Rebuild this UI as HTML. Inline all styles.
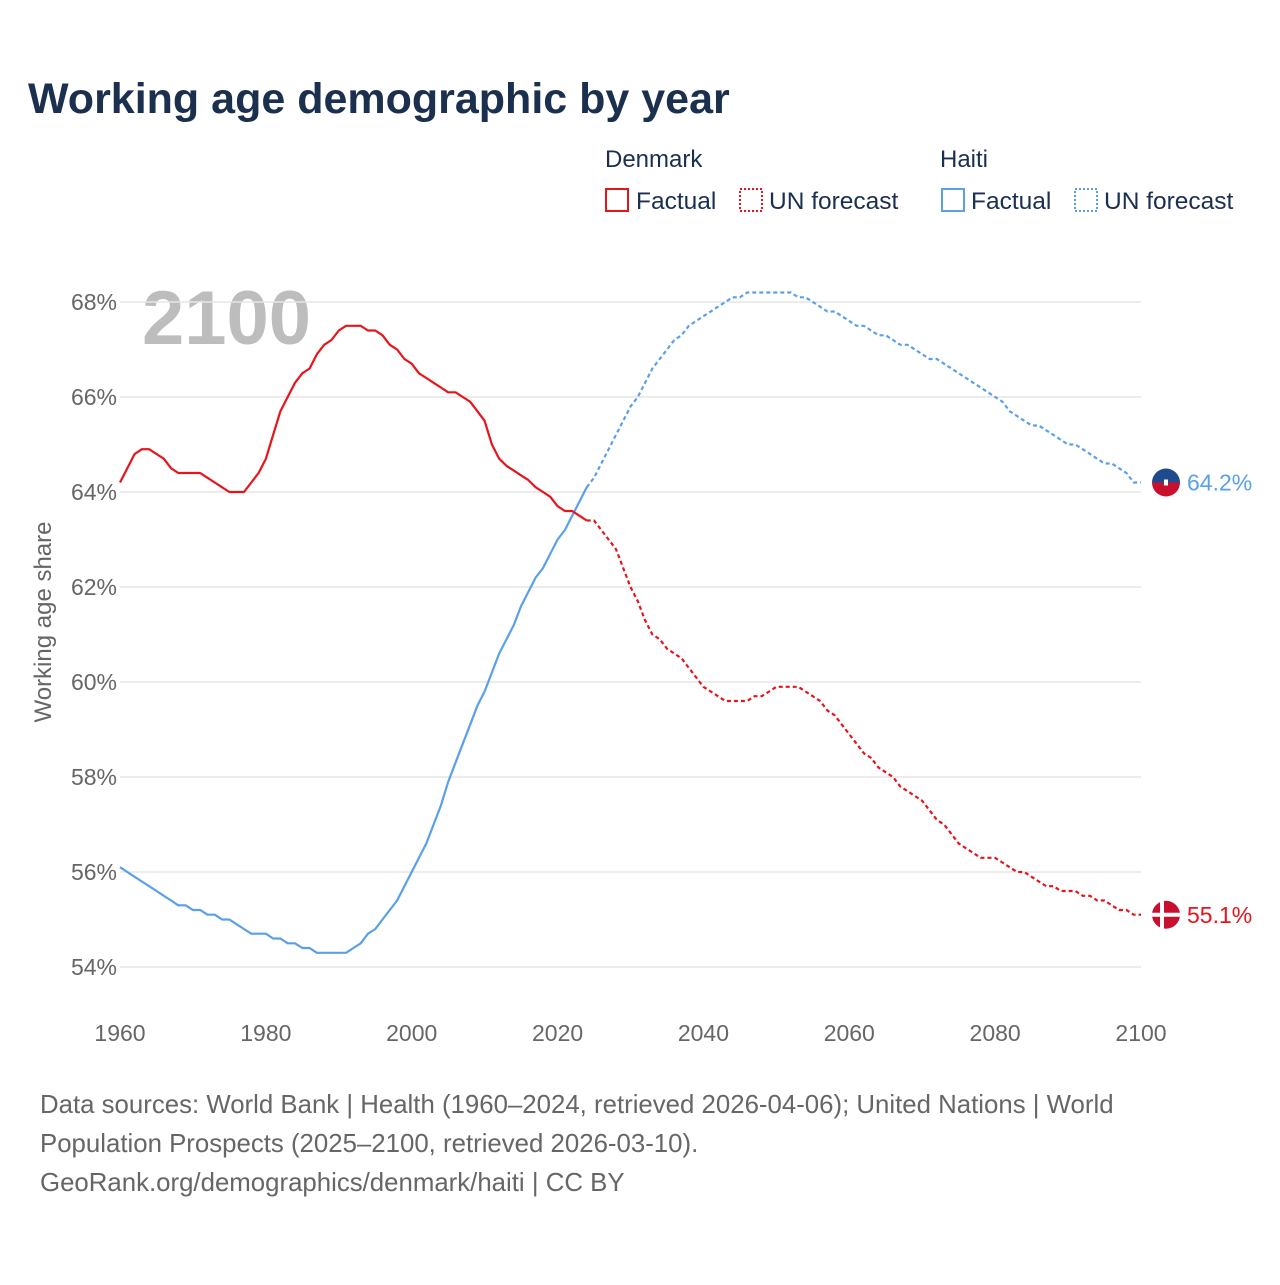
<!DOCTYPE html>
<html><head><meta charset="utf-8"><style>
html,body{margin:0;padding:0;background:#fff;}
body{width:1280px;height:1280px;position:relative;font-family:"Liberation Sans",sans-serif;overflow:hidden;}
svg text{font-family:"Liberation Sans",sans-serif;}
</style></head><body>
<svg id="chart" width="1280" height="1280" viewBox="0 0 1280 1280">
<text x="28" y="113" font-size="43" font-weight="bold" fill="#1b2f4f">Working age demographic by year</text>
<g>
<text x="605" y="167" font-size="24" fill="#1b2f4f">Denmark</text>
<text x="940" y="167" font-size="24" fill="#1b2f4f">Haiti</text>
<rect x="606" y="189" width="22" height="22" fill="none" stroke="#e8141c" stroke-width="2"/>
<text x="636" y="209" font-size="24.5" fill="#1b2f4f">Factual</text>
<rect x="740" y="189" width="22" height="22" fill="none" stroke="#e8141c" stroke-width="2" stroke-dasharray="2 2"/>
<text x="769" y="209" font-size="24.5" fill="#1b2f4f">UN forecast</text>
<rect x="942" y="189" width="22" height="22" fill="none" stroke="#5aa0e8" stroke-width="2"/>
<text x="971" y="209" font-size="24.5" fill="#1b2f4f">Factual</text>
<rect x="1075" y="189" width="22" height="22" fill="none" stroke="#5aa0e8" stroke-width="2" stroke-dasharray="2 2"/>
<text x="1104" y="209" font-size="24.5" fill="#1b2f4f">UN forecast</text>
</g>
<text x="142" y="344" font-size="76" font-weight="bold" fill="#bdbdbd">2100</text>
<text transform="translate(51,622) rotate(-90)" text-anchor="middle" font-size="24" fill="#666">Working age share</text>
<g id="grid"></g><g id="series"></g><g id="labels"></g>
</svg>
<div style="position:absolute;left:40px;top:1086px;font-size:25.8px;line-height:39px;color:#666;width:1220px">Data sources: World Bank | Health (1960–2024, retrieved 2026-04-06); United Nations | World<br>Population Prospects (2025–2100, retrieved 2026-03-10).<br>GeoRank.org/demographics/denmark/haiti | CC BY</div>
<script>
const yTicks=[54,56,58,60,62,64,66,68];
const xTicks=[1960,1980,2000,2020,2040,2060,2080,2100];
const startYear=1960;
const forecastStart=2024;
const denmark=[64.2,64.5,64.8,64.9,64.9,64.8,64.7,64.5,64.4,64.4,64.4,64.4,64.3,64.2,64.1,64.0,64.0,64.0,64.2,64.4,64.7,65.2,65.7,66.0,66.3,66.5,66.6,66.9,67.1,67.2,67.4,67.5,67.5,67.5,67.4,67.4,67.3,67.1,67.0,66.8,66.7,66.5,66.4,66.3,66.2,66.1,66.1,66.0,65.9,65.7,65.5,65.0,64.7,64.55,64.45,64.35,64.25,64.1,64.0,63.9,63.7,63.6,63.6,63.5,63.4,
63.4,63.2,63.0,62.8,62.4,62.0,61.7,61.3,61.0,60.9,60.7,60.6,60.5,60.3,60.1,59.9,59.8,59.7,59.6,59.6,59.6,59.6,59.7,59.7,59.8,59.9,59.9,59.9,59.9,59.8,59.7,59.6,59.4,59.3,59.1,58.9,58.7,58.5,58.4,58.2,58.1,58.0,57.8,57.7,57.6,57.5,57.3,57.1,57.0,56.8,56.6,56.5,56.4,56.3,56.3,56.3,56.2,56.1,56.0,56.0,55.9,55.8,55.7,55.7,55.6,55.6,55.6,55.5,55.5,55.4,55.4,55.3,55.2,55.2,55.1,55.1];
const haiti=[56.1,56.0,55.9,55.8,55.7,55.6,55.5,55.4,55.3,55.3,55.2,55.2,55.1,55.1,55.0,55.0,54.9,54.8,54.7,54.7,54.7,54.6,54.6,54.5,54.5,54.4,54.4,54.3,54.3,54.3,54.3,54.3,54.4,54.5,54.7,54.8,55.0,55.2,55.4,55.7,56.0,56.3,56.6,57.0,57.4,57.9,58.3,58.7,59.1,59.5,59.8,60.2,60.6,60.9,61.2,61.6,61.9,62.2,62.4,62.7,63.0,63.2,63.5,63.8,64.1,
64.3,64.6,64.9,65.2,65.5,65.8,66.0,66.3,66.6,66.8,67.0,67.2,67.3,67.5,67.6,67.7,67.8,67.9,68.0,68.1,68.1,68.2,68.2,68.2,68.2,68.2,68.2,68.2,68.1,68.1,68.0,67.9,67.8,67.8,67.7,67.6,67.5,67.5,67.4,67.3,67.3,67.2,67.1,67.1,67.0,66.9,66.8,66.8,66.7,66.6,66.5,66.4,66.3,66.2,66.1,66.0,65.9,65.7,65.6,65.5,65.4,65.4,65.3,65.2,65.1,65.0,65.0,64.9,64.8,64.7,64.6,64.6,64.5,64.4,64.2,64.2];
const NS='http://www.w3.org/2000/svg';
const X=y=>120+(y-1960)*(1141-120)/140;
const Y=v=>967-(v-54)*(967-302)/14;
function mk(tag,attrs,parent){const e=document.createElementNS(NS,tag);for(const k in attrs)e.setAttribute(k,attrs[k]);parent.appendChild(e);return e;}
const grid=document.getElementById('grid'),ser=document.getElementById('series'),lab=document.getElementById('labels');
yTicks.forEach(t=>{
 const l=mk('line',{x1:120,x2:1141,y1:Y(t),y2:Y(t),stroke:'#e6e6e6','stroke-width':1.5},grid);
 
 
 const tx=mk('text',{x:117,y:Y(t)+8,'text-anchor':'end','font-size':23,fill:'#666'},grid);tx.textContent=t+'%';
 
 
});
xTicks.forEach(t=>{
 const tx=mk('text',{x:X(t),y:1041,'text-anchor':'middle','font-size':23,fill:'#666'},grid);tx.textContent=t;
 
 
});
function pts(arr,a,b){let s=[];for(let i=a;i<=b;i++)s.push(X(startYear+i).toFixed(1)+','+Y(arr[i]).toFixed(1));return s.join(' ');}
function draw(arr,color,name){
 const fi=forecastStart-startYear;
 const f=mk('polyline',{points:pts(arr,0,fi),fill:'none',stroke:color,'stroke-width':2.2,'stroke-linejoin':'round'},ser);
 
 
 const u=mk('polyline',{points:pts(arr,fi,arr.length-1),fill:'none',stroke:color,'stroke-width':2.2,'stroke-dasharray':'4 3'},ser);
 
 
}
draw(haiti,'#5aa0e8','haiti');
draw(denmark,'#e8141c','denmark');
function endLabel(arr,color,name,top,bottom,mid){
 const v=arr[arr.length-1],y=Y(v);
 const g=mk('g',{},lab);
 
 
 mk('path',{d:`M1152,${y} a14,14 0 0 1 28,0 z`,fill:top},g);
 mk('path',{d:`M1152,${y} a14,14 0 0 0 28,0 z`,fill:bottom},g);
 if(mid)mk('rect',{x:1164,y:y-3,width:4,height:6,fill:'#fff'},g);
 else{mk('rect',{x:1152,y:y-2,width:28,height:4,fill:'#fff'},g);mk('rect',{x:1160,y:y-14,width:4,height:28,fill:'#fff'},g);}
 const t=mk('text',{x:1187,y:y+8,'font-size':23,fill:color},lab);t.textContent=v.toFixed(1)+'%';
 
 
}
endLabel(haiti,'#5aa0e8','haiti','#1f4a8e','#c8102e',true);
endLabel(denmark,'#e8141c','denmark','#c8102e','#c8102e',false);
</script>
</body></html>
